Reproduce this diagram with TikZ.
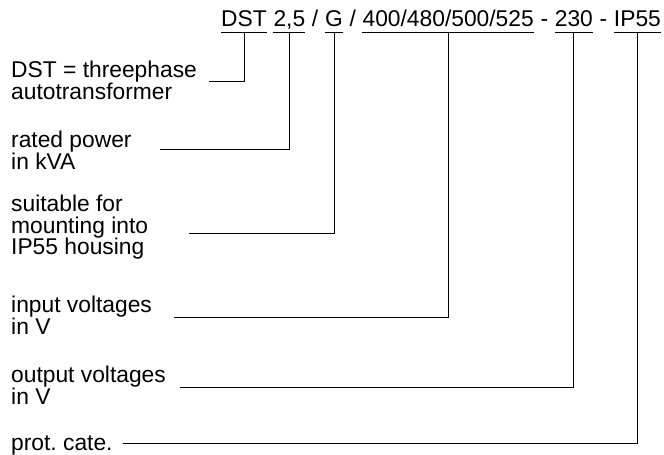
\documentclass[tikz,border=0pt]{standalone}
\usepackage{fontspec}
\setmainfont{Liberation Sans}
\usetikzlibrary{positioning}
\frenchspacing

\begin{document}
\begin{tikzpicture}[x=1pt,y=1pt,
    every node/.style={font=\fontsize{22.8}{21.5}\selectfont},
    part/.style={inner sep=0pt, text height=16pt, text depth=5pt},
    label/.style={inner sep=0pt, align=left, anchor=north west},
    node distance=6.34pt]
  \useasboundingbox (0,0) rectangle (664,-455);
  % type code
  \node[part, anchor=base west] (hdst) at (221,-27) {DST};
  \node[part, base right=of hdst] (hkva) {2,5};
  \node[part, base right=of hkva] (s1) {/};
  \node[part, base right=of s1] (hg) {G};
  \node[part, base right=of hg] (s2) {/};
  \node[part, base right=of s2] (hin) {400/480/500/525};
  \node[part, base right=of hin] (s3) {-};
  \node[part, base right=of s3] (hout) {230};
  \node[part, base right=of hout] (s4) {-};
  \node[part, base right=of s4] (hip) {IP55};
  \foreach \h in {hdst,hkva,hg,hin,hout,hip} {
    \draw[line width=0.8pt] (\h.south west) -- (\h.south east);
  }
  % explanations
  \node[label] (ldst) at (11,-61) {DST = threephase\\autotransformer};
  \node[label] (lkva) at (11,-131) {rated power\\in kVA};
  \node[label] (lg) at (11,-195) {suitable for\\mounting into\\IP55 housing};
  \node[label] (lin) at (11,-296) {input voltages\\in V};
  \node[label] (lout) at (11,-366) {output voltages\\in V};
  \node[label] (lip) at (11,-436) {prot. cate.};
  \coordinate (cdst) at (209,-81);
  \coordinate (ckva) at (160,-149);
  \coordinate (cg) at (189,-233);
  \coordinate (cin) at (174,-317);
  \coordinate (cout) at (180,-387);
  \coordinate (cip) at (123,-443);
  \foreach \c/\h in {cdst/hdst,ckva/hkva,cg/hg,cin/hin,cout/hout,cip/hip} {
    \draw[line width=0.8pt] (\c) -| (\h.south);
  }
\end{tikzpicture}
\end{document}
